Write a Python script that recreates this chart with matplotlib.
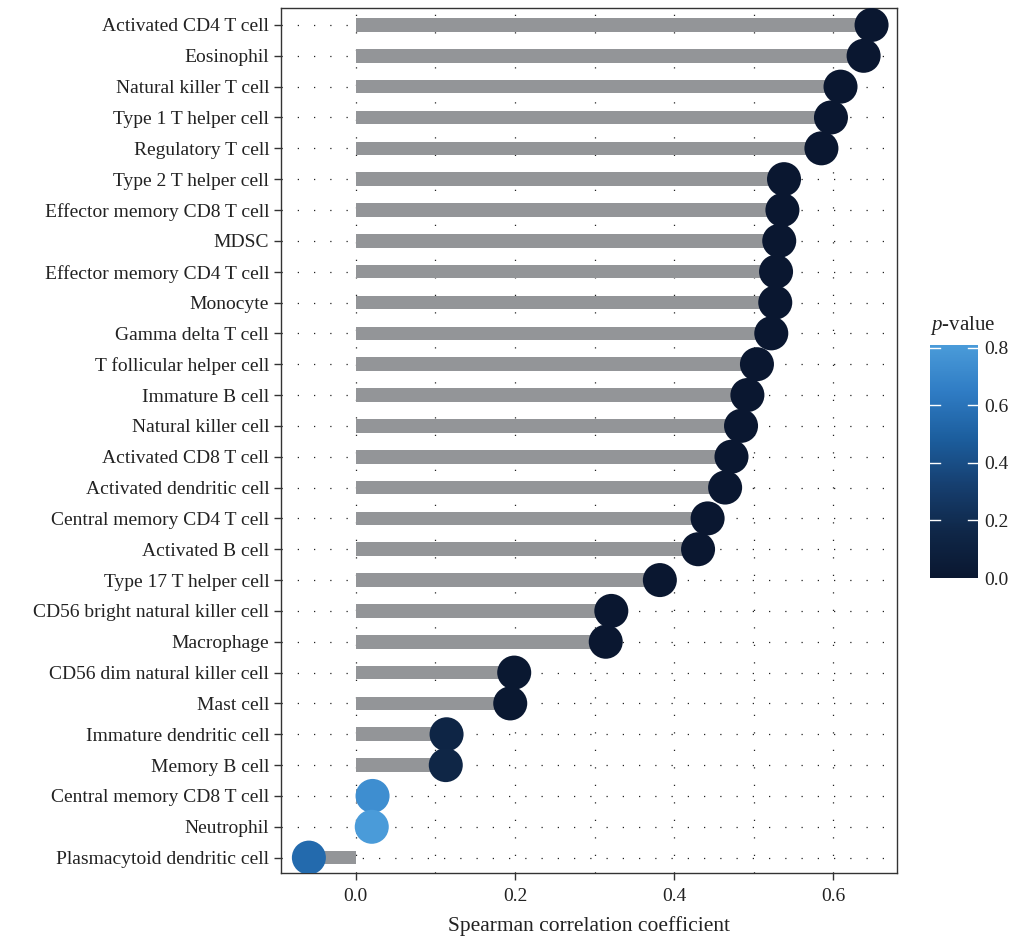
import numpy as np
import matplotlib.pyplot as plt
from matplotlib.colors import LinearSegmentedColormap, Normalize
from matplotlib.ticker import MultipleLocator

plt.rcParams["font.family"] = ["Liberation Serif", "DejaVu Serif"]
plt.rcParams["mathtext.fontset"] = "custom"
plt.rcParams["mathtext.it"] = "Liberation Serif:italic"
plt.rcParams["mathtext.rm"] = "Liberation Serif"

# immune cell types, top to bottom
cells = [
    "Activated CD4 T cell", "Eosinophil", "Natural killer T cell",
    "Type 1 T helper cell", "Regulatory T cell", "Type 2 T helper cell",
    "Effector memory CD8 T cell", "MDSC", "Effector memory CD4 T cell",
    "Monocyte", "Gamma delta T cell", "T follicular helper cell",
    "Immature B cell", "Natural killer cell", "Activated CD8 T cell",
    "Activated dendritic cell", "Central memory CD4 T cell", "Activated B cell",
    "Type 17 T helper cell", "CD56 bright natural killer cell", "Macrophage",
    "CD56 dim natural killer cell", "Mast cell", "Immature dendritic cell",
    "Memory B cell", "Central memory CD8 T cell", "Neutrophil",
    "Plasmacytoid dendritic cell",
]
rho = [
    0.648, 0.638, 0.609, 0.597, 0.585, 0.538, 0.536, 0.532, 0.528, 0.527,
    0.522, 0.504, 0.492, 0.484, 0.472, 0.464, 0.442, 0.430, 0.382, 0.321,
    0.314, 0.199, 0.194, 0.114, 0.113, 0.021, 0.020, -0.059,
]
pval = [
    0.0, 0.0, 0.0, 0.0, 0.0, 0.0, 0.0, 0.0, 0.0, 0.0,
    0.0, 0.0, 0.0, 0.0, 0.0, 0.0, 0.0, 0.0, 0.0, 0.0,
    0.0, 0.01, 0.01, 0.14, 0.15, 0.74, 0.81, 0.55,
]
p_ticks = [0.0, 0.2, 0.4, 0.6, 0.8]

cmap = LinearSegmentedColormap.from_list(
    "pblue", ["#0a1730", "#0f2748", "#163f70", "#1c5e9e", "#2f7cc4", "#4a9bd9"]
)
norm = Normalize(vmin=0, vmax=max(pval))

fig = plt.figure(figsize=(10.16, 9.42), dpi=100)
ax = fig.add_axes([0.2766, 0.0732, 0.6063, 0.9183])

y = np.arange(len(cells))[::-1]

ax.barh(y, rho, height=0.44, color="#939598", zorder=2)
ax.scatter(rho, y, s=600, c=pval, cmap=cmap, norm=norm, zorder=3,
           edgecolors="none")

ax.set_xlim(-0.094, 0.680)
ax.set_ylim(-0.5, len(cells) - 0.45)
ax.set_yticks(y)
ax.set_yticklabels(cells)
ax.xaxis.set_minor_locator(MultipleLocator(0.1))
ax.set_xticks([0.0, 0.2, 0.4, 0.6])
ax.set_xticklabels(["0.0", "0.2", "0.4", "0.6"])

# dotted grid behind the lollipops
for gx in np.arange(0, 0.61, 0.1):
    ax.axvline(gx, color="#222222", lw=0.9, ls=(0, (1, 13)), zorder=1)
for gy in y:
    ax.axhline(gy, color="#222222", lw=0.9, ls=(0, (1, 12)), zorder=1)

ax.tick_params(axis="both", labelsize=14, colors="#333333", labelcolor="#222222",
               length=5, width=1)
ax.tick_params(axis="x", which="minor", length=0)
ax.tick_params(axis="x", pad=6)
for s in ax.spines.values():
    s.set_color("#333333")
    s.set_linewidth(1)

ax.set_xlabel("Spearman correlation coefficient", fontsize=15.5, color="#222222",
              labelpad=8)

# colour bar for p-values
cax = fig.add_axes([0.9154, 0.3864, 0.047, 0.2473])
sm = plt.cm.ScalarMappable(norm=norm, cmap=cmap)
cb = fig.colorbar(sm, cax=cax, ticks=p_ticks)
cb.ax.set_yticklabels([f"{t:.1f}" for t in p_ticks])
cb.outline.set_visible(False)
cb.ax.tick_params(labelsize=14, labelcolor="#222222", length=0, pad=5)
ytr = cb.ax.get_yaxis_transform()
for t in p_ticks[1:]:
    cb.ax.plot([0, 0.2], [t, t], color="white", lw=1, transform=ytr)
    cb.ax.plot([0.8, 1.0], [t, t], color="white", lw=1, transform=ytr)
cax.set_title("$p$-value", fontsize=15, color="#222222", loc="left", pad=11)

fig.savefig("out.png", dpi=100)
